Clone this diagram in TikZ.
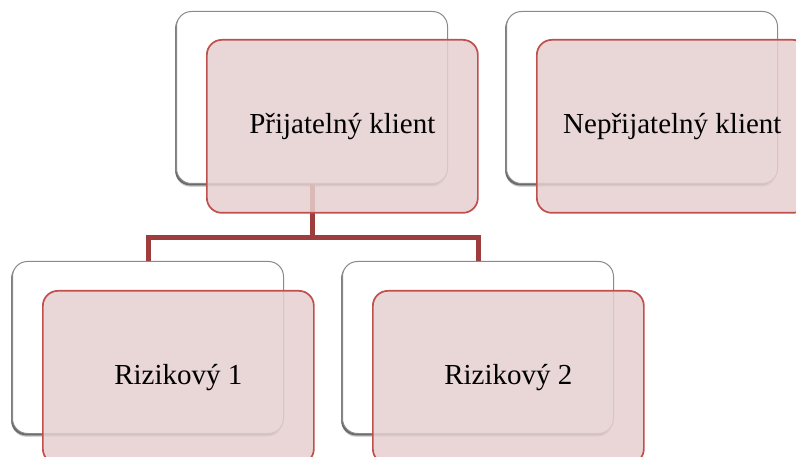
\documentclass[tikz,border=0pt]{standalone}
\usepackage{fontspec}
\setmainfont{Liberation Serif}
\usetikzlibrary{shadows}
\definecolor{boxgray}{HTML}{8A8A8A}
\definecolor{pinkline}{HTML}{C0504D}
\definecolor{pinkfill}{HTML}{E6CFCF}
\definecolor{linkred}{HTML}{9E3D3D}
\tikzset{
  backbox/.style={draw=boxgray, line width=1pt, fill=white, rounded corners=15pt,
    minimum width=271pt, minimum height=172pt, inner sep=0pt, anchor=north west,
    drop shadow={shadow xshift=-1pt, shadow yshift=-3.2pt, opacity=0.25, fill=black},
    drop shadow={shadow xshift=-1.5pt, shadow yshift=-1.8pt, opacity=0.45, fill=black}},
  frontbox/.style={draw=pinkline, line width=1.7pt, fill=pinkfill, fill opacity=0.85,
    text opacity=1, rounded corners=15pt, minimum width=271pt, minimum height=173pt,
    inner sep=0pt, anchor=north west, font=\fontsize{29}{34}\selectfont},
  link/.style={draw=linkred, line width=5pt}
}
\begin{document}
\begin{tikzpicture}[x=1pt,y=-1pt]
\useasboundingbox (0,0) rectangle (796,457);
\clip (0,0) rectangle (796,457);
% back boxes
\node[backbox] (wa) at (176,11) {};
\node[backbox] (wb) at (506,11) {};
\node[backbox] (wc) at (12,261) {};
\node[backbox] (wd) at (342,261) {};
% connectors
\coordinate (j) at ([yshift=-54pt]wa.south);
\draw[link] (wa.south) -- (j);
\draw[link] ([xshift=2.5pt]j -| wc.north) -- ([xshift=-2.5pt]j -| wd.north);
\draw[link] ([yshift=2.5pt]j -| wc.north) -- (wc.north);
\draw[link] ([yshift=2.5pt]j -| wd.north) -- (wd.north);
% front boxes
\node[frontbox] (pa) at (206,39) {Přijatelný klient};
\node[frontbox] (pb) at (536,39) {Nepřijatelný klient};
\node[frontbox] (pc) at (42,290) {Rizikový 1};
\node[frontbox] (pd) at (372,290) {Rizikový 2};
\end{tikzpicture}
\end{document}
